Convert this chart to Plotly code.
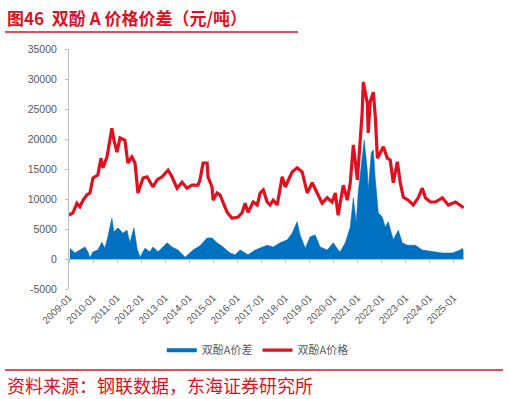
import plotly.graph_objects as go

# ---- data ----
price_dates = [
    "2009-01-01", "2009-03-01", "2009-05-01", "2009-06-15", "2009-08-01", "2009-10-01", "2009-11-15",
    "2010-01-01", "2010-03-15", "2010-05-01", "2010-06-01", "2010-08-01", "2010-10-15", "2010-11-15",
    "2011-01-01", "2011-02-15", "2011-05-01", "2011-06-15", "2011-08-15", "2011-10-01", "2011-11-15",
    "2012-02-01", "2012-04-01", "2012-05-15", "2012-07-01", "2012-09-01", "2012-11-15",
    "2013-02-15", "2013-04-15", "2013-07-01", "2013-09-15", "2013-12-01",
    "2014-02-15", "2014-05-15", "2014-06-15", "2014-08-01", "2014-10-01", "2014-10-15", "2014-12-15",
    "2015-01-01", "2015-03-01", "2015-04-15", "2015-06-01", "2015-08-01", "2015-10-15",
    "2016-01-15", "2016-03-15", "2016-05-01", "2016-06-15", "2016-09-01", "2016-11-01", "2016-12-15",
    "2017-02-01", "2017-04-01", "2017-05-15", "2017-07-01", "2017-09-01", "2017-11-15",
    "2018-01-01", "2018-04-15", "2018-07-01", "2018-09-15", "2018-12-01",
    "2019-02-15", "2019-05-01", "2019-07-15", "2019-10-01", "2019-12-15",
    "2020-02-01", "2020-03-15", "2020-06-01", "2020-08-01", "2020-09-15", "2020-11-01",
    "2021-01-01", "2021-02-15", "2021-03-15", "2021-04-01", "2021-06-01", "2021-06-15", "2021-07-15",
    "2021-09-01", "2021-10-01", "2021-11-01", "2021-12-15",
    "2022-02-01", "2022-04-01", "2022-05-15", "2022-07-01", "2022-09-01", "2022-10-15", "2022-12-01",
    "2023-02-15", "2023-05-01", "2023-07-15", "2023-09-15", "2023-11-01",
    "2024-01-15", "2024-04-01", "2024-07-15", "2024-10-15",
    "2025-02-01", "2025-05-15", "2025-06-01",
]
price_values = [
    7300, 7700, 9300, 8700, 9800, 10700, 11000,
    13500, 14000, 16800, 15200, 17000, 21800, 19800,
    17800, 20200, 19800, 16000, 17000, 16000, 11000,
    13500, 13700, 12800, 12000, 13200, 13700,
    14800, 13700, 11800, 12800, 11800,
    12300, 12300, 13200, 16000, 16000, 13700, 12000,
    9800, 11000, 10700, 9300, 7800, 6800,
    7000, 7700, 9300, 7800, 9500, 9000, 11000,
    11500, 9500, 9000, 9800, 9000, 13700,
    12000, 14500, 15200, 14500, 11000,
    12700, 11000, 9300, 10200, 9500,
    11000, 7300, 12300, 9800, 12700, 19000,
    13200, 19500, 24300, 29500, 26000, 21000, 26200,
    27800, 23700, 16800, 17700,
    18700, 16800, 16500, 12700, 16200, 12700, 10300,
    9800, 9000, 10200, 11800, 10200,
    9500, 9500, 10200, 9000,
    9500, 8700, 8500,
]

spread_dates = [
    "2009-01-15", "2009-04-01", "2009-06-15", "2009-09-01", "2009-10-15", "2009-11-15",
    "2010-01-01", "2010-03-15", "2010-05-15", "2010-07-01", "2010-08-15", "2010-10-15", "2010-11-15",
    "2011-01-15", "2011-04-01", "2011-06-01", "2011-07-15", "2011-09-15", "2011-11-01", "2011-12-15",
    "2012-03-01", "2012-05-15", "2012-07-01", "2012-09-15",
    "2013-02-01", "2013-04-15", "2013-07-15", "2013-11-01",
    "2014-03-01", "2014-06-15", "2014-10-01", "2014-12-15",
    "2015-03-01", "2015-06-01", "2015-09-15", "2015-12-01",
    "2016-02-15", "2016-06-15", "2016-10-01",
    "2017-01-15", "2017-04-01", "2017-07-01", "2017-10-15",
    "2018-02-01", "2018-04-15", "2018-07-01", "2018-08-15", "2018-11-01",
    "2019-01-15", "2019-04-01", "2019-06-15", "2019-10-01",
    "2020-01-01", "2020-03-15", "2020-04-15", "2020-07-01", "2020-09-15", "2020-11-01", "2020-12-15",
    "2021-01-15", "2021-03-15", "2021-04-15", "2021-06-01", "2021-06-15", "2021-08-01", "2021-09-01",
    "2021-10-01", "2021-11-15",
    "2022-01-15", "2022-03-01", "2022-04-15", "2022-07-01", "2022-09-15", "2022-11-15",
    "2023-02-01", "2023-06-01", "2023-09-15",
    "2024-02-15", "2024-07-15", "2024-12-15",
    "2025-04-15", "2025-05-15", "2025-06-01",
]
spread_values = [
    1800, 1000, 1500, 2000, 1200, 200,
    1200, 1500, 2800, 1800, 3700, 6800, 4500,
    5200, 4300, 4800, 2700, 5200, 1800, 300,
    1800, 1200, 2000, 1200,
    2700, 2000, 1500, 300,
    1500, 2200, 3500, 3500,
    2700, 2000, 1000, 700,
    1500, 700, 1500,
    2000, 2300, 2000, 2700,
    3200, 4300, 6200, 4000, 1800,
    3700, 4000, 2000, 1500,
    2700, 1500, 1200, 2700, 5300, 10200, 6000,
    11200, 16800, 19800, 14800, 11500, 17700, 18200,
    13200, 7700,
    7000, 5300, 6200, 3200, 4800, 2700,
    2300, 2300, 1500,
    1200, 1000, 1000,
    1500, 1800, 1300,
]

year_ticks = ["2009-01-01", "2010-01-01", "2011-01-01", "2012-01-01", "2013-01-01", "2014-01-01",
              "2015-01-01", "2016-01-01", "2017-01-01", "2018-01-01", "2019-01-01", "2020-01-01",
              "2021-01-01", "2022-01-01", "2023-01-01", "2024-01-01", "2025-01-01"]
year_labels = ["2009-01", "2010-01", "2011-01", "2012-01", "2013-01", "2014-01", "2015-01", "2016-01",
               "2017-01", "2018-01", "2019-01", "2020-01", "2021-01", "2022-01", "2023-01", "2024-01",
               "2025-01"]
y_ticks = [-5000, 0, 5000, 10000, 15000, 20000, 25000, 30000, 35000]
y_labels = ["-5000", "0", "5000", "10000", "15000", "20000", "25000", "30000", "35000"]

series_names = ["双酚A价差", "双酚A价格"]
title_text = "图46  双酚 A 价格价差（元/吨）"
source_text = "资料来源：钢联数据，东海证券研究所"

BLUE = "#0070C0"
RED = "#E0101E"
GRAY_TXT = "#595959"
AXIS_GRAY = "#BFBFBF"
CJK = "Noto Sans CJK SC"
LAT = "Liberation Sans"
x_range = ["2009-01-01", "2025-06-10"]

fig = go.Figure()
fig.add_trace(go.Scatter(
    x=spread_dates, y=spread_values, mode="lines", fill="tozeroy",
    line=dict(color=BLUE, width=0.6), fillcolor=BLUE, showlegend=False, hoverinfo="skip"))
fig.add_trace(go.Scatter(
    x=[None], y=[None], mode="lines", name=series_names[0],
    line=dict(color=BLUE, width=4)))
fig.add_trace(go.Scatter(
    x=price_dates, y=price_values, mode="lines", name=series_names[1],
    line=dict(color=RED, width=3.2)))
# helper trace for the zero-line tick axis
fig.add_trace(go.Scatter(x=[x_range[0]], y=[None], xaxis="x2", mode="lines",
                         showlegend=False, hoverinfo="skip"))

fig.update_layout(
    width=509, height=399,
    margin=dict(l=69, r=45, t=49, b=110, autoexpand=False),
    paper_bgcolor="white", plot_bgcolor="white",
    showlegend=True,
    legend=dict(orientation="h", x=0.235, y=-0.255, xanchor="left", yanchor="middle",
                font=dict(family=CJK, size=11, color=GRAY_TXT), itemwidth=30,
                bgcolor="rgba(0,0,0,0)", tracegroupgap=0),
    xaxis=dict(range=x_range, type="date", tickvals=year_ticks, ticktext=year_labels,
               tickangle=-45, showline=False, ticks="", showgrid=False, zeroline=False,
               tickfont=dict(family=LAT, size=10, color=GRAY_TXT)),
    xaxis2=dict(range=x_range, type="date", overlaying="x", anchor="free", position=0.125,
                side="bottom", tickvals=year_ticks, showticklabels=False, showline=True,
                linecolor=AXIS_GRAY, linewidth=1, ticks="outside", ticklen=3, tickcolor=AXIS_GRAY,
                showgrid=False, zeroline=False, layer="below traces"),
    yaxis=dict(range=[-5000, 35000], tickvals=y_ticks, ticktext=y_labels, showline=True,
               linecolor=AXIS_GRAY, linewidth=1, ticks="outside", ticklen=3, tickcolor=AXIS_GRAY,
               showgrid=False, zeroline=False, ticklabelstandoff=6,
               tickfont=dict(family=LAT, size=10.5, color=GRAY_TXT)),
    font=dict(family=CJK),
)

# title, rules and source
fig.add_annotation(xref="paper", yref="paper", x=(5 - 69) / 395, y=(289 - 17) / 240,
                   xanchor="left", yanchor="middle", showarrow=False,
                   text="<b>" + title_text + "</b>", font=dict(family=CJK, size=17, color=RED))
fig.add_shape(type="line", xref="paper", yref="paper", x0=(5 - 69) / 395, x1=(298 - 69) / 395,
              y0=(289 - 32) / 240, y1=(289 - 32) / 240, line=dict(color=RED, width=1.5))
fig.add_shape(type="line", xref="paper", yref="paper", x0=(5 - 69) / 395, x1=(503 - 69) / 395,
              y0=(289 - 370) / 240, y1=(289 - 370) / 240, line=dict(color=RED, width=1.5))
fig.add_annotation(xref="paper", yref="paper", x=(5 - 69) / 395, y=(289 - 385) / 240,
                   xanchor="left", yanchor="middle", showarrow=False,
                   text=source_text, font=dict(family=CJK, size=18, color=RED))

fig.write_html("out.html", config={"displayModeBar": False},
               post_script="document.body.style.margin='0';document.body.style.overflow='hidden';")
